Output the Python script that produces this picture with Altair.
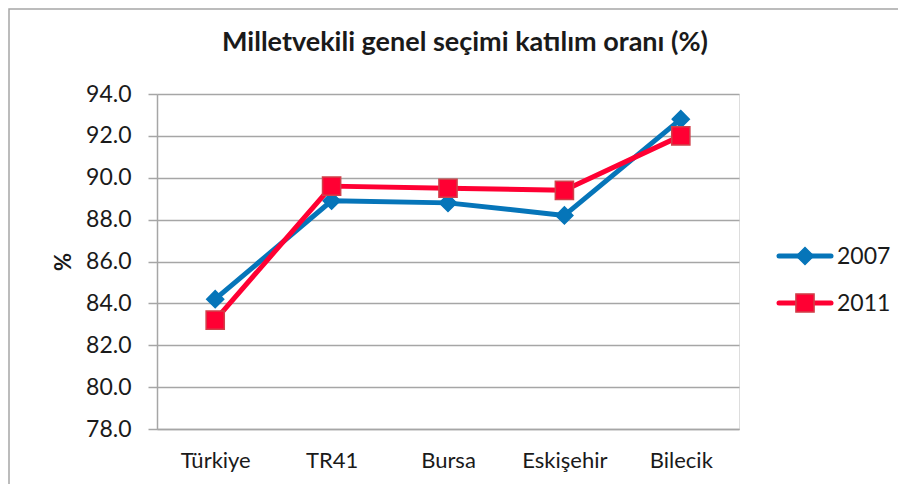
import altair as alt
import pandas as pd

categories = ["Türkiye", "TR41", "Bursa", "Eskişehir", "Bilecik"]
series_names = ["2007", "2011"]
values_2007 = [84.2, 88.9, 88.8, 88.2, 92.8]
values_2011 = [83.2, 89.6, 89.5, 89.4, 92.0]
y_ticks = [78, 80, 82, 84, 86, 88, 90, 92, 94]

title_text = "Milletvekili genel seçimi katılım oranı (%)"
y_title = "%"

colors = {"2007": "#0675B9", "2011": "#FF0033"}
shapes = {"2007": "diamond", "2011": "square"}
sizes = {"2007": 290, "2011": 330}

rows = []
for s, vals in zip(series_names, [values_2007, values_2011]):
    for c, v in zip(categories, vals):
        rows.append({"category": c, "series": s, "value": v})
df = pd.DataFrame(rows)

W, H = 582, 335
FONT = "Lato"
TXT = "#1a1a1a"

x_enc = alt.X("category:N", sort=categories,
              scale=alt.Scale(type="point", padding=0.5),
              axis=alt.Axis(title=None, ticks=False, grid=False, labelAngle=0,
                            labelPadding=21, labelFontSize=22, labelFont=FONT,
                            labelColor=TXT, domainColor="#A6A6A6",
                            domainWidth=1.5))
y_enc = alt.Y("value:Q",
              scale=alt.Scale(domain=[78, 94], nice=False, zero=False),
              axis=alt.Axis(title=y_title, values=y_ticks, format=".1f",
                            tickSize=9, tickColor="#A6A6A6", tickWidth=1.5,
                            domainColor="#A6A6A6", domainWidth=1.5,
                            gridColor="#A6A6A6", gridWidth=1.5,
                            labelPadding=17, labelFontSize=23, labelFont=FONT,
                            labelColor=TXT,
                            titleFont=FONT, titleFontSize=22, titleFontWeight="bold",
                            titleColor=TXT, titlePadding=10))

frame = alt.Chart(pd.DataFrame({"a": [0]})).mark_rect(
    fill=None, stroke="#A6A6A6", strokeWidth=1.5
).encode(x=alt.value(-148), y=alt.value(-85), x2=alt.value(W + 400), y2=alt.value(H + 300))

title = alt.Chart(pd.DataFrame({"t": [title_text]})).mark_text(
    font=FONT, fontSize=27, fontWeight="bold", color=TXT, align="center",
    baseline="alphabetic"
).encode(x=alt.value(W / 2 + 17), y=alt.value(-43), text="t:N")

layers = [frame, title]
legend_y = {"2007": 162, "2011": 209}
for s in series_names:
    base = alt.Chart(df).transform_filter(alt.datum.series == s)
    line = base.mark_line(color=colors[s], strokeWidth=5, strokeCap="round",
                          strokeJoin="round").encode(x=x_enc, y=y_enc)
    pts = base.mark_point(shape=shapes[s], filled=True, fill=colors[s],
                          size=sizes[s], opacity=1,
                          stroke=("#D0404A" if s == "2011" else colors[s]),
                          strokeWidth=1.5).encode(x=x_enc, y=y_enc)
    layers += [line, pts]

# legend
for s in series_names:
    ld = alt.Chart(pd.DataFrame({"series": [s]}))
    lline = ld.mark_rule(color=colors[s], strokeWidth=5, strokeCap="round").encode(
        x=alt.value(622), x2=alt.value(674), y=alt.value(legend_y[s]))
    lpt = ld.mark_point(shape=shapes[s], filled=True, fill=colors[s], size=sizes[s],
                        opacity=1, stroke=("#D0404A" if s == "2011" else colors[s]),
                        strokeWidth=1.5).encode(x=alt.value(648), y=alt.value(legend_y[s]))
    ltxt = ld.mark_text(align="left", baseline="middle", font=FONT, fontSize=23,
                        color=TXT).encode(
        x=alt.value(680), y=alt.value(legend_y[s] + 1), text="series:N")
    layers += [lline, lpt, ltxt]

chart = alt.layer(*layers).properties(
    width=W, height=H,
    autosize=alt.AutoSizeParams(type="none"),
    padding={"left": 149, "top": 86, "right": 159, "bottom": 55},
).configure_view(stroke=None).configure(background="white")

chart.save("out.html", embed_options={"renderer": "svg", "actions": False})
